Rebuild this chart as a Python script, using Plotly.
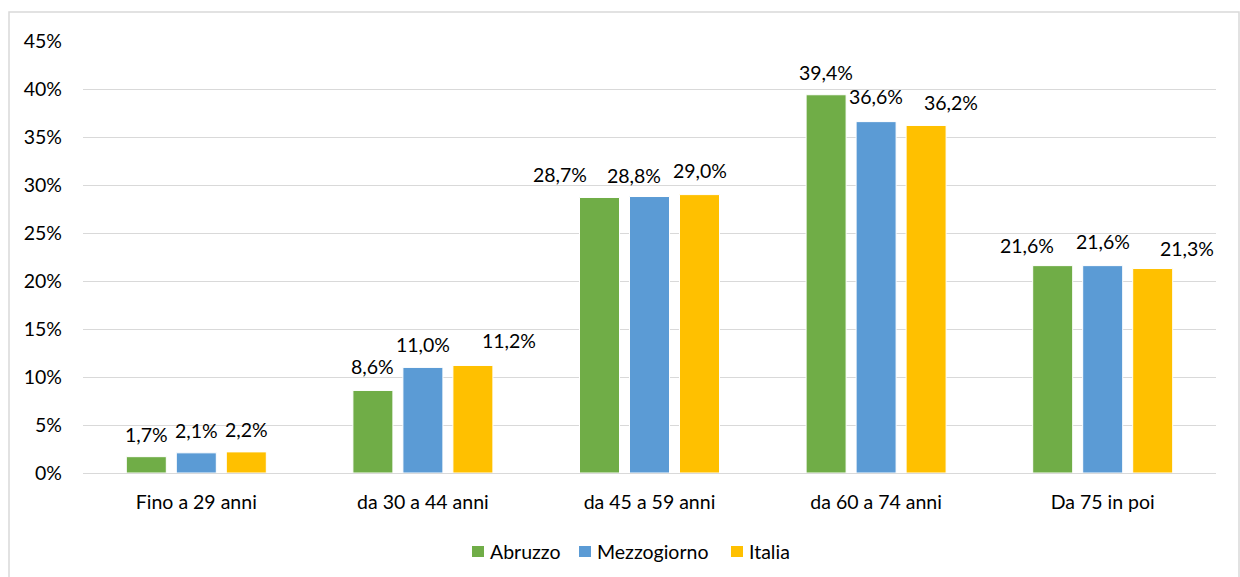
import plotly.graph_objects as go

categories = ["Fino a 29 anni", "da 30 a 44 anni", "da 45 a 59 anni", "da 60 a 74 anni", "Da 75 in poi"]
abruzzo = [1.7, 8.6, 28.7, 39.4, 21.6]
mezzogiorno = [2.1, 11.0, 28.8, 36.6, 21.6]
italia = [2.2, 11.2, 29.0, 36.2, 21.3]

series_names = ["Abruzzo", "Mezzogiorno", "Italia"]
series_values = [abruzzo, mezzogiorno, italia]
series_colors = ["#70AD47", "#5B9BD5", "#FFC000"]

# hand-placed nudges (px) for the data labels, per series and category
label_dx = [[0, 0, -40, 0, -26], [0, 0, -16, 0, 0], [0, 36, 0, 25, 34]]
label_dy = [[0, 1, 0, 0, -2], [0, 0, -1, 3, 2], [0, 2, 2, 0, -2]]

FONT = "Lato, Open Sans, sans-serif"
FS = 19.5

W, H = 1240, 577
ml, mr, mt, mb = 83, 24, 41, 104
pw, ph = W - ml - mr, H - mt - mb
BARGAP, GROUPGAP = 0.338, 0.2


def px_x(x):
    return (x - ml) / pw


def px_y(y):
    return (H - mb - y) / ph


fig = go.Figure()
for i, (name, vals, color) in enumerate(zip(series_names, series_values, series_colors)):
    fig.add_trace(go.Bar(
        x=categories, y=vals, name=name, offsetgroup=str(i), showlegend=False,
        marker=dict(color=color, line=dict(color="white", width=1)),
    ))

# value labels above each bar
n = len(series_names)
slot = (1 - BARGAP) / n
annotations = []
for i, vals in enumerate(series_values):
    offset = (i - (n - 1) / 2) * slot
    for j, v in enumerate(vals):
        annotations.append(dict(
            x=j + offset, y=v, xref="x", yref="y",
            text=f"{v:.1f}%".replace(".", ","),
            showarrow=False, yanchor="bottom",
            xshift=label_dx[i][j], yshift=9 + label_dy[i][j],
            font=dict(size=FS, family=FONT, color="#000000"),
        ))

# legend drawn below the plot: square swatch + label
shapes = [dict(type="rect", xref="paper", yref="paper",
               x0=px_x(9), x1=px_x(1239), y0=px_y(585), y1=px_y(12),
               line=dict(color="#d9d9d9", width=1.5), fillcolor="rgba(0,0,0,0)", layer="below")]
swatch_left = [472, 579, 731]
for name, color, sx in zip(series_names, series_colors, swatch_left):
    shapes.append(dict(type="rect", xref="paper", yref="paper",
                       x0=px_x(sx), x1=px_x(sx + 12), y0=px_y(557), y1=px_y(546),
                       line=dict(width=0), fillcolor=color))
    annotations.append(dict(x=px_x(sx + 16), y=px_y(551), xref="paper", yref="paper",
                            text=name, showarrow=False, xanchor="left", yanchor="middle",
                            font=dict(size=FS, family=FONT, color="#000000")))

fig.update_layout(
    width=W, height=H,
    margin=dict(l=ml, r=mr, t=mt, b=mb),
    paper_bgcolor="white", plot_bgcolor="white",
    separators=",.",
    barmode="group", bargap=BARGAP, bargroupgap=GROUPGAP,
    font=dict(family=FONT, size=FS, color="#000000"),
    showlegend=False,
    xaxis=dict(showline=True, linecolor="#d9d9d9", linewidth=1, ticks="",
               tickfont=dict(size=FS, family=FONT), ticklabelstandoff=12,
               range=[-0.5, 4.5]),
    yaxis=dict(range=[0, 45], dtick=5, ticksuffix="%", showgrid=True,
               gridcolor="#d9d9d9", gridwidth=1, zeroline=False, showline=False,
               tickfont=dict(size=FS, family=FONT), ticklabelstandoff=20),
    annotations=annotations,
    shapes=shapes,
)

fig.write_html("out.html")
